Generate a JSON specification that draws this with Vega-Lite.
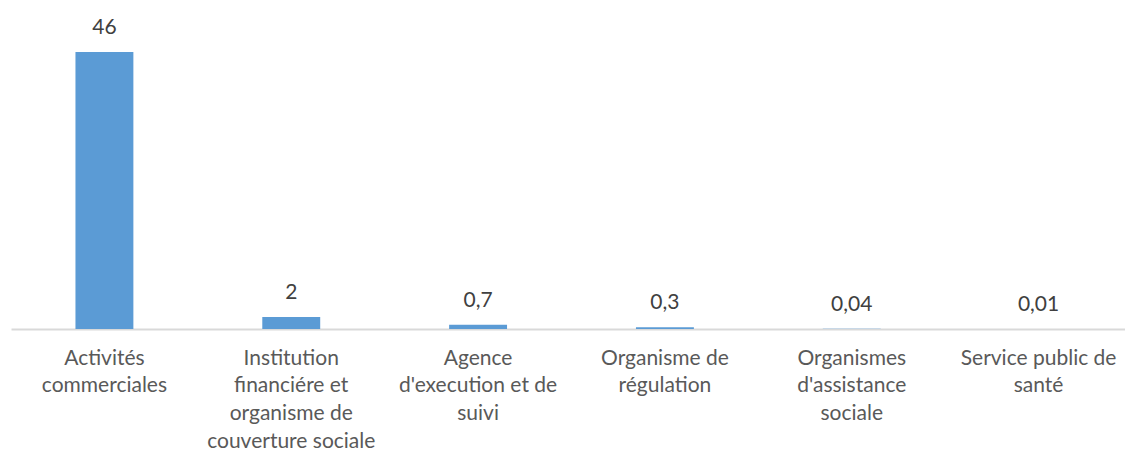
{
  "$schema": "https://vega.github.io/schema/vega-lite/v6.json",
  "width": 1121,
  "height": 301,
  "autosize": "none",
  "padding": {"left": 11, "top": 28, "right": 0, "bottom": 126},
  "background": "white",
  "config": {"view": {"stroke": null}, "font": "Lato"},
  "data": {
    "values": [
      {"cat": "Activités|commerciales", "value": 46, "label": "46"},
      {"cat": "Institution|financiére et|organisme de|couverture sociale", "value": 2, "label": "2"},
      {"cat": "Agence|d'execution et de|suivi", "value": 0.7, "label": "0,7"},
      {"cat": "Organisme de|régulation", "value": 0.3, "label": "0,3"},
      {"cat": "Organismes|d'assistance|sociale", "value": 0.04, "label": "0,04"},
      {"cat": "Service public  de|santé", "value": 0.01, "label": "0,01"}
    ]
  },
  "encoding": {
    "x": {
      "field": "cat",
      "type": "nominal",
      "sort": null,
      "scale": {"paddingInner": 0.69, "paddingOuter": 0.345},
      "axis": {
        "title": null,
        "labelAngle": 0,
        "labelExpr": "split(datum.label, '|')",
        "labelFont": "Lato",
        "labelFontSize": 21,
        "labelColor": "#595959",
        "labelLineHeight": 27.7,
        "labelPadding": 18,
        "labelBaseline": "top",
        "labelLimit": 300,
        "ticks": false,
        "domainColor": "#D9D9D9",
        "domainWidth": 2
      }
    },
    "y": {
      "field": "value",
      "type": "quantitative",
      "scale": {"domain": [0, 50], "nice": false},
      "axis": null
    }
  },
  "layer": [
    {"mark": {"type": "bar", "color": "#5B9BD5"}},
    {
      "mark": {"type": "text", "baseline": "middle", "dy": -24, "fontSize": 21, "color": "#404040", "font": "Lato"},
      "encoding": {"text": {"field": "label"}}
    }
  ]
}
